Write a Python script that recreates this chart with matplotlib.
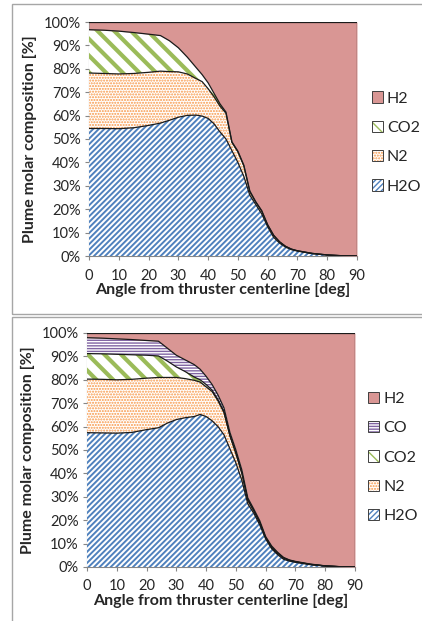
import matplotlib
matplotlib.use("Agg")
import matplotlib.pyplot as plt
import numpy as np
from matplotlib.patches import Patch, Rectangle
from matplotlib.legend_handler import HandlerTuple

# angles [deg] shared by both panels
angles = [0, 5, 10, 15, 20, 24, 27, 30, 33, 36, 38, 40, 42, 44, 46, 48, 50,
          52, 54, 56, 58, 60, 62, 64, 66, 68, 70, 75, 80, 85, 90]

# top panel: molar fractions [%]
top_h2o = [54.5, 54.5, 54.4, 54.8, 55.8, 56.8, 58.0, 59.3, 60.1, 60.2, 59.8, 58.8,
           56.5, 53.0, 50.0, 45.0, 40.0, 34.0, 26.0, 22.0, 18.0, 12.5, 8.0, 5.5,
           3.8, 2.7, 2.1, 1.0, 0.4, 0.1, 0.0]
top_n2 = [23.7, 23.5, 23.4, 23.2, 22.7, 22.2, 20.8, 19.4, 17.7, 15.6, 14.7, 12.7,
          11.5, 11.0, 11.0, 3.5, 4.5, 4.5, 1.5, 1.0, 1.2, 0.7, 0.8, 0.5,
          0.3, 0.2, 0.1, 0.1, 0.05, 0.02, 0.0]
top_co2 = [18.5, 18.5, 18.3, 17.5, 16.3, 15.2, 13.2, 10.3, 7.2, 4.7, 3.0, 2.5,
           1.5, 1.0, 0.5, 0.3, 0.3, 0.3, 0.3, 0.2, 0.2, 0.2, 0.1, 0.1,
           0.05, 0.05, 0.05, 0.02, 0.01, 0.0, 0.0]
top_h2 = [3.3, 3.5, 3.9, 4.5, 5.2, 5.8, 8.0, 11.0, 15.0, 19.5, 22.5, 26.0,
          30.5, 35.0, 38.5, 51.2, 55.2, 61.2, 72.2, 76.8, 80.6, 86.6, 91.1, 93.9,
          95.85, 97.05, 97.75, 98.88, 99.54, 99.88, 100.0]

# bottom panel: molar fractions [%]
bot_h2o = [57.4, 57.3, 57.2, 57.5, 58.7, 59.5, 61.5, 63.0, 63.8, 64.3, 65.2, 64.3,
           62.5, 60.0, 56.5, 50.5, 44.5, 37.0, 27.0, 23.0, 18.0, 12.0, 7.8, 5.3,
           3.3, 2.5, 2.0, 1.0, 0.4, 0.1, 0.0]
bot_n2 = [22.9, 22.9, 22.8, 22.7, 22.0, 21.5, 19.5, 18.0, 16.7, 15.5, 13.8, 12.7,
          12.5, 11.0, 9.5, 5.5, 4.0, 3.0, 1.5, 1.0, 1.0, 0.5, 0.6, 0.6,
          0.5, 0.3, 0.2, 0.1, 0.05, 0.02, 0.0]
bot_co2 = [10.9, 10.9, 10.9, 10.5, 9.8, 9.2, 7.0, 4.5, 3.0, 1.4, 1.0, 1.0,
           0.6, 0.5, 0.4, 0.3, 0.3, 0.3, 0.2, 0.2, 0.2, 0.1, 0.1, 0.1,
           0.1, 0.05, 0.05, 0.05, 0.02, 0.01, 0.0]
bot_co = [6.8, 6.7, 6.6, 6.5, 6.3, 6.3, 5.5, 5.0, 5.0, 5.3, 4.5, 3.5,
          2.4, 2.0, 1.6, 1.2, 1.2, 1.2, 0.8, 0.6, 0.6, 0.4, 0.5, 0.3,
          0.2, 0.15, 0.15, 0.1, 0.03, 0.02, 0.0]
bot_h2 = [2.0, 2.2, 2.5, 2.8, 3.2, 3.5, 6.5, 9.5, 11.5, 13.5, 15.5, 18.5,
          22.0, 26.5, 32.0, 42.5, 50.0, 58.5, 70.5, 75.2, 80.2, 87.0, 91.0, 93.7,
          95.9, 97.0, 97.6, 98.75, 99.5, 99.85, 100.0]

# species style: (fill colour, hatch colour, hatch, hatch lw)
styles = {
    'H2O': ('white', '#4F81BD', '//////', 1.4),
    'N2': ('white', '#F79646', '......', 1.0),
    'CO2': ('white', '#9BBB59', '\\\\', 3.0),
    'CO': ('white', '#8064A2', '------', 1.0),
    'H2': ('#D99694', '#D99694', None, 1.0),
}

plt.rcParams['font.family'] = ['Lato', 'DejaVu Sans']
txt = '#262626'
grey = '#868686'

fig = plt.figure(figsize=(4.22, 6.21), dpi=100)

# chart area frames
fig.add_artist(Rectangle((12 / 422, 1 - 314 / 621), 1.2, 310 / 621,
                         transform=fig.transFigure, fill=False, ec='#A6A6A6', lw=1))
fig.add_artist(Rectangle((12 / 422, -0.1), 1.2, 1 - 317 / 621 + 0.1,
                         transform=fig.transFigure, fill=False, ec='#A6A6A6', lw=1))


def draw(ax, series, leg_y, leg_x):
    x = np.array(angles)
    base = np.zeros(len(x))
    handles = []
    for name, vals in series:
        fc, hc, hatch, hlw = styles[name]
        top = base + np.array(vals)
        with plt.rc_context({'hatch.linewidth': hlw}):
            coll = ax.fill_between(x, base, top, facecolor=fc, edgecolor=hc,
                                   hatch=hatch, linewidth=0, zorder=1)
        if hasattr(coll, 'set_hatch_linewidth'):
            coll.set_hatch_linewidth(hlw)
        ax.plot(x, top, color='#1a1a1a', lw=0.9, zorder=3)
        with plt.rc_context({'hatch.linewidth': hlw}):
            p1 = Patch(facecolor=fc, edgecolor=hc, hatch=hatch, lw=0)
        if hasattr(p1, 'set_hatch_linewidth'):
            p1.set_hatch_linewidth(hlw)
        p2 = Patch(facecolor='none', edgecolor='#404040', lw=0.7)
        handles.append(((p1, p2), name))
        base = top
    ax.plot([90, 90], [0, 100], color='#1a1a1a', lw=0.9, zorder=3)

    ax.set_xlim(0, 90)
    ax.set_ylim(0, 100)
    ax.set_xticks(np.arange(0, 91, 10))
    ax.set_yticks(np.arange(0, 101, 10))
    ax.set_yticklabels([f'{v}%' for v in range(0, 101, 10)])
    for s in ['top', 'right']:
        ax.spines[s].set_visible(False)
    for s in ['left', 'bottom']:
        ax.spines[s].set_color(grey)
        ax.spines[s].set_linewidth(0.8)
        ax.spines[s].set_zorder(0)
    ax.tick_params(direction='out', length=3, width=0.8, color=grey,
                   labelsize=10.5, labelcolor=txt)
    ax.tick_params(axis='x', pad=6)
    ax.tick_params(axis='y', pad=3)
    ax.set_xlabel('Angle from thruster centerline [deg]', fontsize=11.5,
                  fontweight='bold', color=txt, labelpad=0)
    ax.set_ylabel('Plume molar composition [%]', fontsize=11.5,
                  fontweight='bold', color=txt, labelpad=5)

    handles = handles[::-1]
    ax.legend([h for h, _ in handles], [n for _, n in handles],
              handler_map={tuple: HandlerTuple(ndivide=1, pad=0)},
              loc='center left', bbox_to_anchor=(leg_x, leg_y),
              frameon=False, fontsize=11.5, labelspacing=0.95,
              handlelength=0.7, handleheight=0.7, handletextpad=0.25,
              borderpad=0, borderaxespad=0, labelcolor=txt)


ax1 = fig.add_axes([89 / 422, 1 - 256 / 621, 268 / 422, 234 / 621])
draw(ax1, [('H2O', top_h2o), ('N2', top_n2), ('CO2', top_co2), ('H2', top_h2)],
     0.485, 1.055)

ax2 = fig.add_axes([87 / 422, 1 - 567 / 621, 268 / 422, 234 / 621])
draw(ax2, [('H2O', bot_h2o), ('N2', bot_n2), ('CO2', bot_co2), ('CO', bot_co),
           ('H2', bot_h2)], 0.468, 1.048)

fig.savefig('out.png', dpi=100)
